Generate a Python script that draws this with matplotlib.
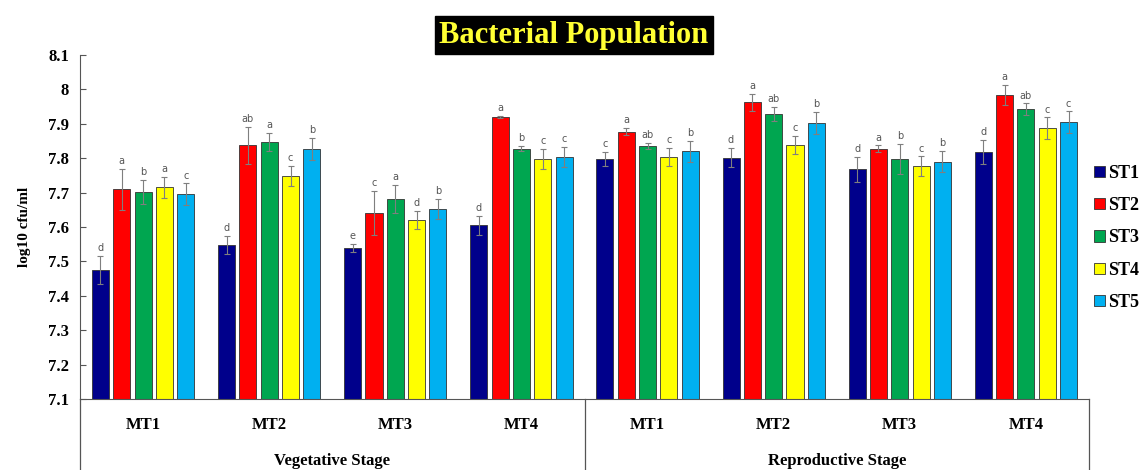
import numpy as np
import matplotlib
matplotlib.use("Agg")
import matplotlib.pyplot as plt
from matplotlib.ticker import FuncFormatter

# data: 8 groups (4 MT x 2 stages), 5 series
groups = ["MT1", "MT2", "MT3", "MT4", "MT1", "MT2", "MT3", "MT4"]
stages = ["Vegetative Stage", "Reproductive Stage"]
series = ["ST1", "ST2", "ST3", "ST4", "ST5"]
colors = ["#00008B", "#FF0000", "#00A650", "#FFFF00", "#00B0F0"]

st1 = [7.475, 7.548, 7.540, 7.605, 7.798, 7.802, 7.768, 7.819]
st2 = [7.710, 7.837, 7.640, 7.921, 7.877, 7.962, 7.827, 7.985]
st3 = [7.702, 7.847, 7.682, 7.828, 7.836, 7.929, 7.797, 7.943]
st4 = [7.715, 7.748, 7.620, 7.798, 7.804, 7.839, 7.777, 7.888]
st5 = [7.695, 7.828, 7.652, 7.804, 7.820, 7.902, 7.790, 7.904]

err1 = [0.042, 0.027, 0.012, 0.028, 0.020, 0.027, 0.036, 0.035]
err2 = [0.060, 0.055, 0.064, 0.003, 0.011, 0.025, 0.010, 0.029]
err3 = [0.035, 0.027, 0.040, 0.008, 0.009, 0.020, 0.044, 0.016]
err4 = [0.030, 0.030, 0.027, 0.030, 0.026, 0.026, 0.028, 0.031]
err5 = [0.032, 0.032, 0.030, 0.030, 0.030, 0.032, 0.031, 0.032]

let1 = ["d", "d", "e", "d", "c", "d", "d", "d"]
let2 = ["a", "ab", "c", "a", "a", "a", "a", "a"]
let3 = ["b", "a", "a", "b", "ab", "ab", "b", "ab"]
let4 = ["a", "c", "d", "c", "c", "c", "c", "c"]
let5 = ["c", "b", "b", "c", "b", "b", "b", "c"]

values = [st1, st2, st3, st4, st5]
errors = [err1, err2, err3, err4, err5]
letters = [let1, let2, let3, let4, let5]

serif = "Liberation Serif"

fig = plt.figure(figsize=(11.48, 4.70), dpi=100)
ax = fig.add_axes([0.0697, 0.151, 0.8789, 0.732])

x = np.arange(len(groups))
step = 0.169
width = 0.135
for i in range(len(series)):
    pos = x + (i - 2) * step
    ax.bar(pos, np.array(values[i]) - 7.1, width, bottom=7.1, color=colors[i],
           edgecolor="#333333", linewidth=0.6, label=series[i], zorder=2)
    ax.errorbar(pos, values[i], yerr=errors[i], fmt="none", ecolor="#7f7f7f",
                elinewidth=0.8, capsize=2.5, capthick=0.8, zorder=3)
    for p, v, e, t in zip(pos, values[i], errors[i], letters[i]):
        ax.text(p, v + e + 0.008, t, ha="center", va="bottom", fontsize=7,
                color="#555555", family="DejaVu Sans")

ax.set_xlim(-0.5, 7.5)
ax.set_ylim(7.1, 8.1)
ax.set_yticks(np.arange(7.1, 8.15, 0.1))
ax.yaxis.set_major_formatter(FuncFormatter(lambda v, p: "%g" % round(v, 1)))
ax.tick_params(axis="y", direction="in", length=4, color="#555555", pad=8)
for lab in ax.get_yticklabels():
    lab.set_fontfamily(serif)
    lab.set_fontweight("bold")
    lab.set_fontsize(12)
ax.set_xticks([])
ax.spines["top"].set_visible(False)
ax.spines["right"].set_visible(False)
ax.spines["left"].set_color("#555555")
ax.spines["bottom"].set_color("#555555")

ax.set_ylabel("log10 cfu/ml", family=serif, fontweight="bold", fontsize=11, labelpad=12)

# category labels below axis
trans = ax.get_xaxis_transform()
for xi, g in zip(x, groups):
    ax.text(xi, -0.076, g, transform=trans, ha="center", va="center",
            family=serif, fontweight="bold", fontsize=12)
for k, s in enumerate(stages):
    ax.text(1.5 + 4 * k, -0.18, s, transform=trans, ha="center", va="center",
            family=serif, fontweight="bold", fontsize=12)
for xs in [-0.5, 3.5, 7.5]:
    ax.plot([xs, xs], [0, -0.21], transform=trans, color="#555555",
            linewidth=0.9, clip_on=False)

# title with black box
fig.text(0.5, 0.925, "Bacterial Population", ha="center", va="center",
         family=serif, fontweight="bold", fontsize=22, color="#FFFF33",
         bbox=dict(facecolor="black", edgecolor="black", pad=3))

leg = fig.legend(loc="center left", bbox_to_anchor=(0.953, 0.494), frameon=False,
                 borderpad=0, borderaxespad=0,
                 handlelength=0.6, handleheight=0.6, handletextpad=0.2,
                 labelspacing=0.85, prop={"family": serif, "weight": "bold", "size": 13})

fig.savefig("out.png", dpi=100)
